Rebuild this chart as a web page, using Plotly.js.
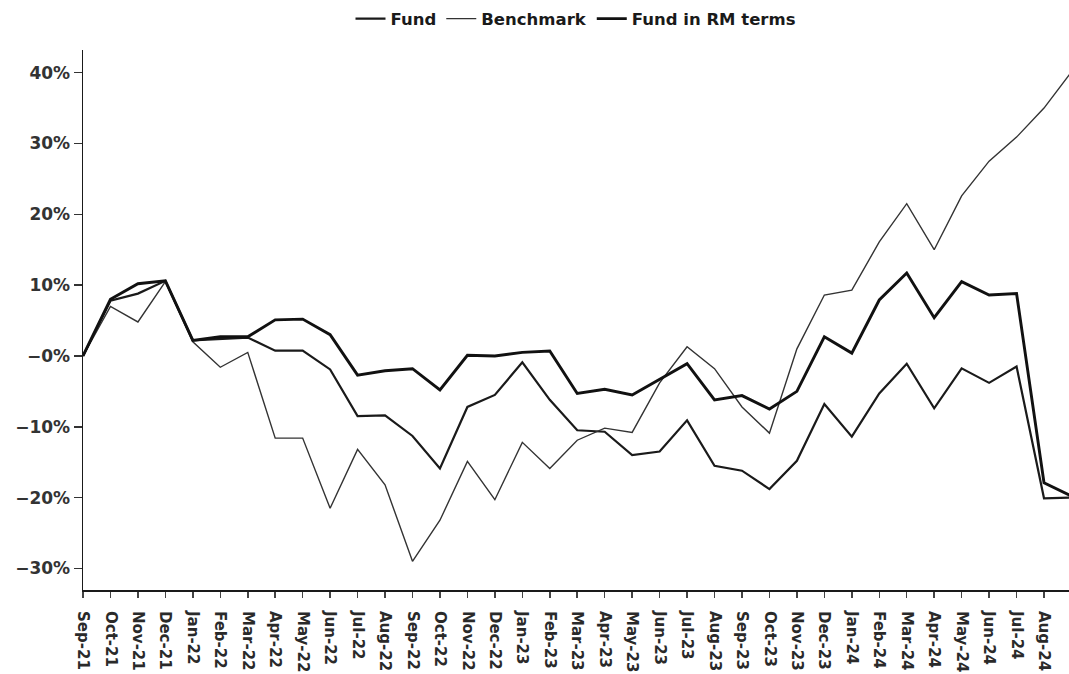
<!DOCTYPE html>
<html>
<head>
<meta charset="utf-8">
<script src="https://cdn.plot.ly/plotly-3.0.1.min.js"></script>
<style>
html,body{margin:0;padding:0;background:#fff;}
#chart{width:1069px;height:674px;}
</style>
</head>
<body>
<div id="chart"></div>
<script>
var months = ["Sep-21","Oct-21","Nov-21","Dec-21","Jan-22","Feb-22","Mar-22","Apr-22","May-22","Jun-22","Jul-22","Aug-22",
  "Sep-22","Oct-22","Nov-22","Dec-22","Jan-23","Feb-23","Mar-23","Apr-23","May-23","Jun-23","Jul-23","Aug-23",
  "Sep-23","Oct-23","Nov-23","Dec-23","Jan-24","Feb-24","Mar-24","Apr-24","May-24","Jun-24","Jul-24","Aug-24","Sep-24"];

var fund = [0, 7.8, 8.8, 10.6, 2.2, 2.4, 2.6, 0.75, 0.75, -1.9, -8.5, -8.4,
  -11.3, -15.9, -7.2, -5.5, -0.9, -6.2, -10.5, -10.7, -14.0, -13.5, -9.1, -15.5,
  -16.2, -18.8, -14.8, -6.8, -11.4, -5.3, -1.1, -7.4, -1.75, -3.8, -1.5, -20.1, -20.0];

var benchmark = [0, 7.0, 4.8, 10.5, 2.0, -1.6, 0.5, -11.6, -11.6, -21.5, -13.2, -18.2,
  -29.0, -23.2, -14.9, -20.3, -12.2, -15.9, -11.9, -10.2, -10.8, -3.8, 1.3, -1.8,
  -7.2, -10.9, 1.0, 8.6, 9.3, 16.1, 21.5, 15.0, 22.6, 27.5, 30.9, 35.0, 40.1];

var fundRM = [0, 8.0, 10.2, 10.6, 2.2, 2.7, 2.7, 5.1, 5.2, 3.0, -2.7, -2.1,
  -1.8, -4.8, 0.1, 0.0, 0.5, 0.7, -5.3, -4.7, -5.5, -3.3, -1.1, -6.2,
  -5.6, -7.5, -5.0, 2.7, 0.4, 7.9, 11.7, 5.4, 10.5, 8.6, 8.8, -17.9, -19.8];

var yTickVals = [40, 30, 20, 10, 0, -10, -20, -30];
var yTickText = ["40%", "30%", "20%", "10%", "\u22120%", "\u221210%", "\u221220%", "\u221230%"];

var FONT = "DejaVu Sans, Verdana, sans-serif";

var traces = [
  {x: months, y: fund, name: "Fund", type: "scatter", mode: "lines",
   line: {color: "#1a1a1a", width: 2.2}},
  {x: months, y: benchmark, name: "Benchmark", type: "scatter", mode: "lines",
   line: {color: "#333333", width: 1.4}},
  {x: months, y: fundRM, name: "Fund in RM terms", type: "scatter", mode: "lines",
   line: {color: "#111111", width: 2.9}}
];

var layout = {
  width: 1069, height: 674,
  margin: {l: 83, r: 0, t: 50, b: 84, pad: 0},
  paper_bgcolor: "#fff", plot_bgcolor: "#fff",
  showlegend: true,
  legend: {orientation: "h", x: 0.5, xanchor: "center", y: 1.09, yanchor: "top",
    font: {family: FONT, size: 16.5, color: "#1a1a1a", weight: "bold"},
    itemwidth: 30, tracegroupgap: 0, bgcolor: "rgba(0,0,0,0)"},
  xaxis: {type: "category", range: [0, 35.91], showgrid: false, zeroline: false,
    showline: true, linecolor: "#1a1a1a", linewidth: 2,
    ticks: "outside", ticklen: 6, tickwidth: 1.5, tickcolor: "#444",
    ticklabelstandoff: 10,
    tickangle: 90, tickfont: {family: FONT, size: 15, color: "#2a2a2a", weight: "bold"},
    fixedrange: true},
  yaxis: {range: [-33.05, 43.2], showgrid: false, zeroline: false,
    showline: true, linecolor: "#1a1a1a", linewidth: 1.5,
    tickmode: "array", tickvals: yTickVals, ticktext: yTickText,
    ticks: "outside", ticklen: 8, tickwidth: 1.5, tickcolor: "#333",
    tickfont: {family: FONT, size: 17, color: "#333", weight: "bold"},
    fixedrange: true}
};

Plotly.newPlot("chart", traces, layout, {displayModeBar: false, staticPlot: true});
</script>
</body>
</html>
